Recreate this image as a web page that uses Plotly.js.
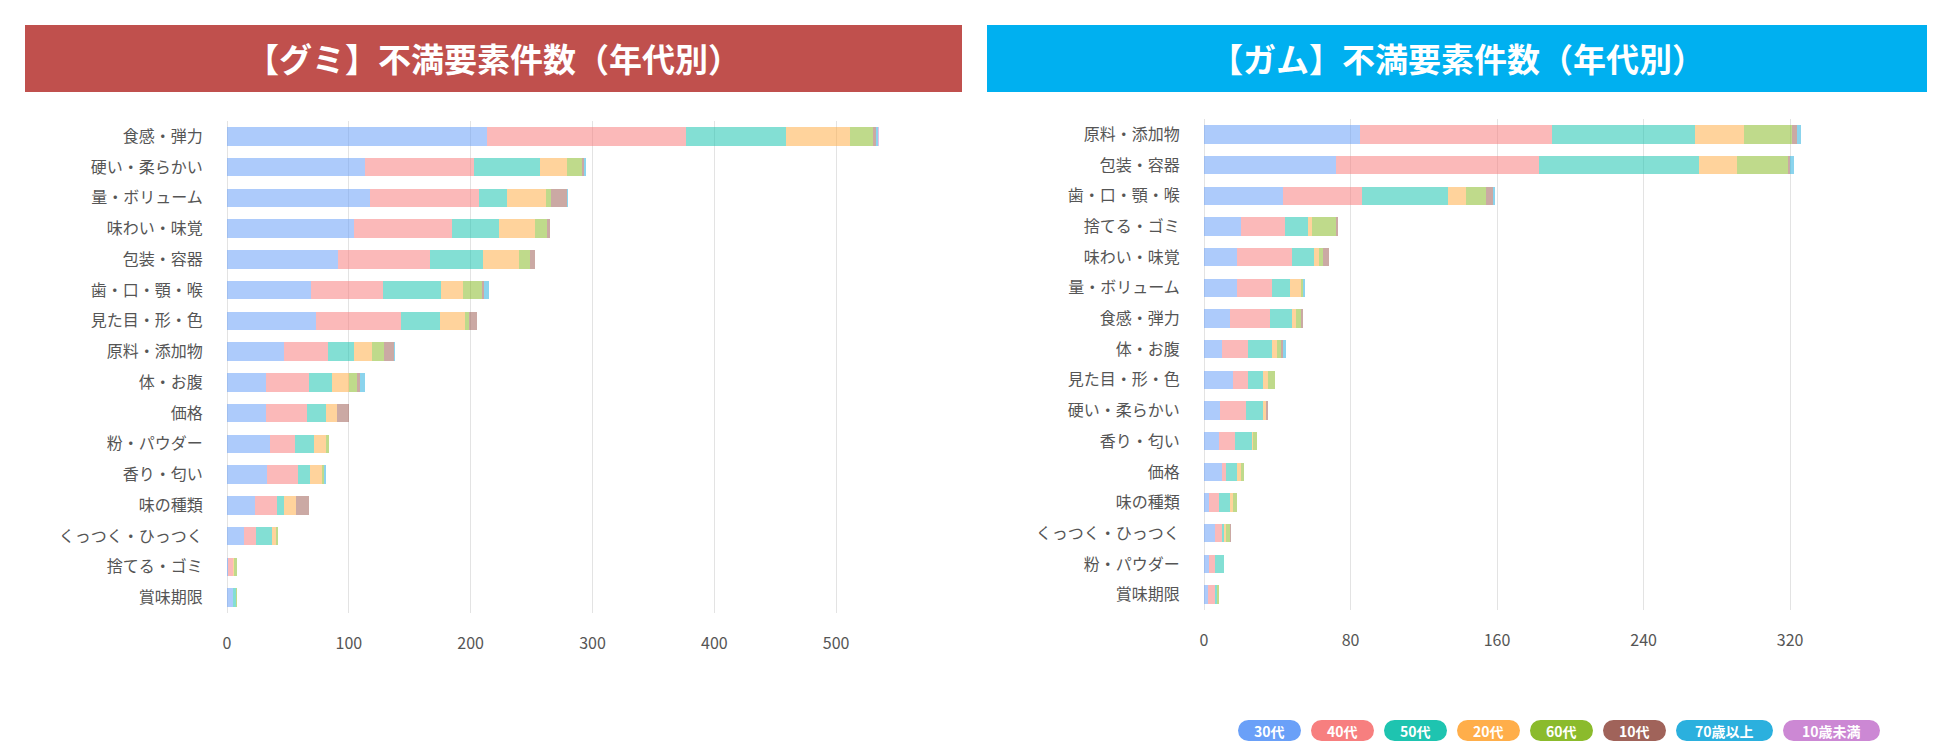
<!DOCTYPE html>
<html>
<head>
<meta charset="utf-8">
<script src="https://cdn.plot.ly/plotly-3.0.1.min.js"></script>
<style>
html,body{margin:0;padding:0;background:#fff;}
#chart{width:1950px;height:750px;}
</style>
</head>
<body>
<div id="chart"></div>
<script>
// ---------- DATA ----------
const seriesNames = ['30代','40代','50代','20代','60代','10代','70歳以上','10歳未満'];
const seriesColors = ['#6aa0f8','#f77f7f','#1ec4b0','#ffae4a','#8bbb2c','#a0635a','#2bb0de','#cc88d4'];

const gummyTitle = '【グミ】不満要素件数（年代別）';
const gumTitle = '【ガム】不満要素件数（年代別）';

const gummyCategories = ['食感・弾力','硬い・柔らかい','量・ボリューム','味わい・味覚','包装・容器','歯・口・顎・喉','見た目・形・色','原料・添加物','体・お腹','価格','粉・パウダー','香り・匂い','味の種類','くっつく・ひっつく','捨てる・ゴミ','賞味期限'];
const gummy30s  = [213,113,117,104,91,69,73,47,32,32,35,33,23,14,1,5];
const gummy40s  = [164,90,90,81,76,59,70,36,35,34,21,25,18,10,4,0];
const gummy50s  = [82,54,23,38,43,48,32,21,19,15,15,10,6,13,0,2];
const gummy20s  = [52,22,32,30,30,18,20,15,14,9,10,10,10,3,1,0];
const gummy60s  = [19,12,4,10,9,15,4,10,7,0,3,2,0,2,2,1];
const gummy10s  = [3,2,13,2,4,2,6,8,2,10,0,0,10,0,0,0];
const gummy70p  = [1,2,1,0,0,4,0,1,4,0,0,1,0,0,0,0];
const gummyU10  = [1,0,0,0,0,0,0,0,0,0,0,0,0,0,0,0];

const gumCategories = ['原料・添加物','包装・容器','歯・口・顎・喉','捨てる・ゴミ','味わい・味覚','量・ボリューム','食感・弾力','体・お腹','見た目・形・色','硬い・柔らかい','香り・匂い','価格','味の種類','くっつく・ひっつく','粉・パウダー','賞味期限'];
const gum30s  = [85,72,43,20,18,18,14,10,16,9,8,10,3,6,3,2];
const gum40s  = [105,111,43,24,30,19,22,14,8,14,9,2,5,4,3,4];
const gum50s  = [78,87,47,13,12,10,12,13,8,9,9,6,6,1,5,1];
const gum20s  = [27,21,10,2,3,6,2,3,3,2,1,2,2,1,0,0];
const gum60s  = [26,28,11,13,2,1,3,2,4,0,2,2,2,2,0,1];
const gum10s  = [3,1,4,1,3,0,1,1,0,1,0,0,0,1,0,0];
const gum70p  = [2,2,1,0,0,1,0,2,0,0,0,0,0,0,0,0];
const gumU10  = [0,0,0,0,0,0,0,0,0,0,0,0,0,0,0,0];

const gummyTicks = [0,100,200,300,400,500];
const gumTicks = [0,80,160,240,320];

// ---------- BUILD ----------
const W = 1950, H = 750;
const FONT = '"Noto Sans CJK JP", "Noto Sans", sans-serif';
const px = v => v / W;
const py = v => 1 - v / H;

function rgba(hex, a){
  const n = parseInt(hex.slice(1),16);
  return `rgba(${(n>>16)&255},${(n>>8)&255},${n&255},${a})`;
}

const gummySeries = [gummy30s,gummy40s,gummy50s,gummy20s,gummy60s,gummy10s,gummy70p,gummyU10];
const gumSeries = [gum30s,gum40s,gum50s,gum20s,gum60s,gum10s,gum70p,gumU10];

const traces = [];
seriesNames.forEach((name,i)=>{
  traces.push({type:'bar',orientation:'h',name:name,x:gummySeries[i],y:gummyCategories,
    xaxis:'x',yaxis:'y',marker:{color:rgba(seriesColors[i],0.55),line:{width:0}},
    showlegend:false,hoverinfo:'skip'});
  traces.push({type:'bar',orientation:'h',name:name,x:gumSeries[i],y:gumCategories,
    xaxis:'x2',yaxis:'y2',marker:{color:rgba(seriesColors[i],0.55),line:{width:0}},
    showlegend:false,hoverinfo:'skip'});
});

const axisX = (domain, rng, ticks, anchor) => ({
  domain:domain, range:rng, tickvals:ticks, ticktext:ticks.map(String),
  showgrid:true, gridcolor:'#e3e3e3', gridwidth:1,
  zeroline:true, zerolinecolor:'#e3e3e3', zerolinewidth:1,
  showline:false, ticks:'outside', ticklen:16, tickcolor:'rgba(0,0,0,0)',
  tickfont:{family:FONT,size:16,color:'#555'}, anchor:anchor, fixedrange:true
});
const axisY = (domain, cats, anchor) => ({
  domain:domain, type:'category', categoryorder:'array', categoryarray:cats,
  autorange:'reversed', showgrid:false, zeroline:false, showline:false,
  ticks:'outside', ticklen:20, tickcolor:'rgba(0,0,0,0)',
  tickfont:{family:FONT,size:16,color:'#555'}, anchor:anchor, fixedrange:true
});

const shapes = [];
const annotations = [];

// title bars
[[25,962,'#c0504d',gummyTitle],[987,1927,'#00b0f0',gumTitle]].forEach(t=>{
  shapes.push({type:'rect',xref:'paper',yref:'paper',x0:px(t[0]),x1:px(t[1]),y0:py(92),y1:py(25),
    fillcolor:t[2],line:{width:0},layer:'below'});
  annotations.push({xref:'paper',yref:'paper',x:px((t[0]+t[1])/2),y:py(58),text:'<b>'+t[3]+'</b>',
    showarrow:false,xanchor:'center',yanchor:'middle',font:{family:FONT,size:33,color:'#ffffff'}});
});

// legend pills
const pillWidths = [63,63,63,63,63,63,97,97];
let lx = 1238;
const pTop = 720, pBot = 741, r = (pBot-pTop)/2;
seriesNames.forEach((name,i)=>{
  const w = pillWidths[i];
  const x0 = lx, x1 = lx + w;
  const c = seriesColors[i];
  shapes.push({type:'rect',xref:'paper',yref:'paper',x0:px(x0+r),x1:px(x1-r),y0:py(pBot),y1:py(pTop),fillcolor:c,line:{width:0}});
  shapes.push({type:'circle',xref:'paper',yref:'paper',x0:px(x0),x1:px(x0+2*r),y0:py(pBot),y1:py(pTop),fillcolor:c,line:{width:0}});
  shapes.push({type:'circle',xref:'paper',yref:'paper',x0:px(x1-2*r),x1:px(x1),y0:py(pBot),y1:py(pTop),fillcolor:c,line:{width:0}});
  annotations.push({xref:'paper',yref:'paper',x:px((x0+x1)/2),y:py((pTop+pBot)/2),text:'<b>'+name+'</b>',
    showarrow:false,xanchor:'center',yanchor:'middle',font:{family:FONT,size:14,color:'#ffffff'}});
  lx = x1 + 10;
});

const layout = {
  width:W, height:H, margin:{l:0,r:0,t:0,b:0}, paper_bgcolor:'#fff', plot_bgcolor:'#fff',
  barmode:'stack', bargap:0.4, showlegend:false,
  xaxis: axisX([px(227),px(958)],[0,600],gummyTicks,'y'),
  yaxis: axisY([py(613),py(121)],gummyCategories,'x'),
  xaxis2: axisX([px(1204),px(1900)],[0,380],gumTicks,'y2'),
  yaxis2: axisY([py(610),py(119)],gumCategories,'x2'),
  shapes:shapes, annotations:annotations, font:{family:FONT}
};

Plotly.newPlot('chart', traces, layout, {staticPlot:true, displayModeBar:false});
</script>
</body>
</html>
